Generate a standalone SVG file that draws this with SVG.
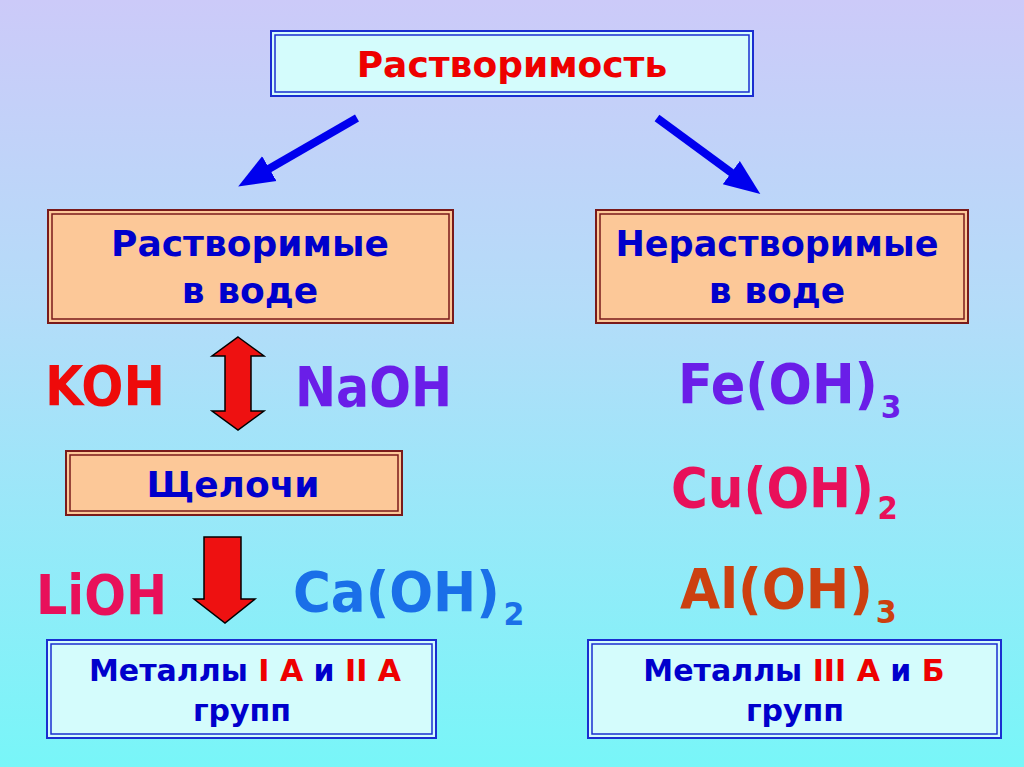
<svg xmlns="http://www.w3.org/2000/svg" width="1024" height="767" viewBox="0 0 1024 767">
<defs>
<linearGradient id="bg" x1="0" y1="0" x2="0" y2="1">
<stop offset="0" stop-color="#cccaf9"/>
<stop offset="0.4" stop-color="#b4dcf9"/>
<stop offset="1" stop-color="#78f6f8"/>
</linearGradient>
<marker id="ah" viewBox="0 0 10 10" refX="3" refY="5" markerWidth="4.5" markerHeight="4.5" orient="auto" markerUnits="strokeWidth">
<path d="M0,1 L10,5 L0,9 Z" fill="#0000ee"/>
</marker>
<style>
text{font-family:"DejaVu Sans","Liberation Sans",sans-serif;font-weight:bold;text-anchor:middle}
.blueBox{fill:#d4fcfc;stroke:#1a2ed0;stroke-width:2}
.blueIn{fill:none;stroke:#1a2ed0;stroke-width:1.5}
.peach{fill:#fcc898;stroke:#7a1a1a;stroke-width:2}
.peachIn{fill:none;stroke:#7a1a1a;stroke-width:1.5}
.lbl{fill:#0000cc;font-size:36px}
.small{font-size:30px}
.red{fill:#ee0000}
.f{font-size:55px;text-anchor:start}
.sub{font-size:32px}
.conn{stroke:#0000ee;stroke-width:8;fill:none;marker-end:url(#ah)}
.redArrow{fill:#ee1111;stroke:#000;stroke-width:1.5;stroke-linejoin:miter}
</style>
</defs>
<rect width="1024" height="767" fill="url(#bg)"/>

<g id="connectors">
<line class="conn" x1="357" y1="118" x2="260" y2="174"/>
<line class="conn" x1="657" y1="118" x2="740" y2="179"/>
</g>

<g id="top">
<rect class="blueBox" x="271" y="31" width="482" height="65"/>
<rect class="blueIn" x="275" y="35" width="474" height="57"/>
<text x="512" y="77" font-size="36" class="red">Растворимость</text>
</g>

<g id="soluble">
<rect class="peach" x="48" y="210" width="405" height="113"/>
<rect class="peachIn" x="52" y="214" width="397" height="105"/>
<text class="lbl" x="250" y="256">Растворимые</text>
<text class="lbl" x="250" y="303">в воде</text>
</g>

<g id="insoluble">
<rect class="peach" x="596" y="210" width="372" height="113"/>
<rect class="peachIn" x="600" y="214" width="364" height="105"/>
<text class="lbl" x="777" y="256" textLength="323" lengthAdjust="spacingAndGlyphs">Нерастворимые</text>
<text class="lbl" x="777" y="303">в воде</text>
</g>

<g id="koh"><text class="f" x="45" y="405" fill="#ee0a0a" textLength="120" lengthAdjust="spacingAndGlyphs">KOH</text></g>
<g id="naoh"><text class="f" x="295" y="406" fill="#6a1ee8" textLength="157" lengthAdjust="spacingAndGlyphs">NaOH</text></g>

<g id="double-arrow">
<path class="redArrow" d="M238,337 L264,356 L251,356 L251,411 L264,411 L238,430 L212,411 L225,411 L225,356 L212,356 Z"/>
</g>

<g id="alkali">
<rect class="peach" x="66" y="451" width="336" height="64"/>
<rect class="peachIn" x="70" y="455" width="328" height="56"/>
<text class="lbl" x="233" y="497">Щелочи</text>
</g>

<g id="lioh"><text class="f" x="36" y="614" fill="#e8105a" textLength="131" lengthAdjust="spacingAndGlyphs">LiOH</text></g>

<g id="down-arrow">
<path class="redArrow" d="M204,537 L241,537 L241,599 L255,599 L225,623 L194,599 L204,599 Z"/>
</g>

<g id="caoh">
<text class="f" transform="translate(293,611) scale(0.938,1)" fill="#1a6fe8">Ca(OH)<tspan class="sub" dx="4" dy="14">2</tspan></text>
</g>

<g id="feoh">
<text class="f" transform="translate(678,403) scale(0.927,1)" fill="#6a1ee8">Fe(OH)<tspan class="sub" dx="3" dy="15">3</tspan></text>
</g>
<g id="cuoh">
<text class="f" transform="translate(671,507) scale(0.912,1)" fill="#e8105a">Cu(OH)<tspan class="sub" dx="4" dy="12">2</tspan></text>
</g>
<g id="aloh">
<text class="f" transform="translate(680,608) scale(0.944,1)" fill="#cc4010">Al(OH)<tspan class="sub" dx="3" dy="15">3</tspan></text>
</g>

<g id="metals-left">
<rect class="blueBox" x="47" y="640" width="389" height="98"/>
<rect class="blueIn" x="51" y="644" width="381" height="90"/>
<text class="lbl small" x="245" y="681">Металлы <tspan class="red">I A</tspan> и <tspan class="red">II A</tspan></text>
<text class="lbl small" x="242" y="721">групп</text>
</g>

<g id="metals-right">
<rect class="blueBox" x="588" y="640" width="413" height="98"/>
<rect class="blueIn" x="592" y="644" width="405" height="90"/>
<text class="lbl small" x="794" y="681">Металлы <tspan class="red">III A</tspan> и <tspan class="red">Б</tspan></text>
<text class="lbl small" x="795" y="721">групп</text>
</g>
</svg>
